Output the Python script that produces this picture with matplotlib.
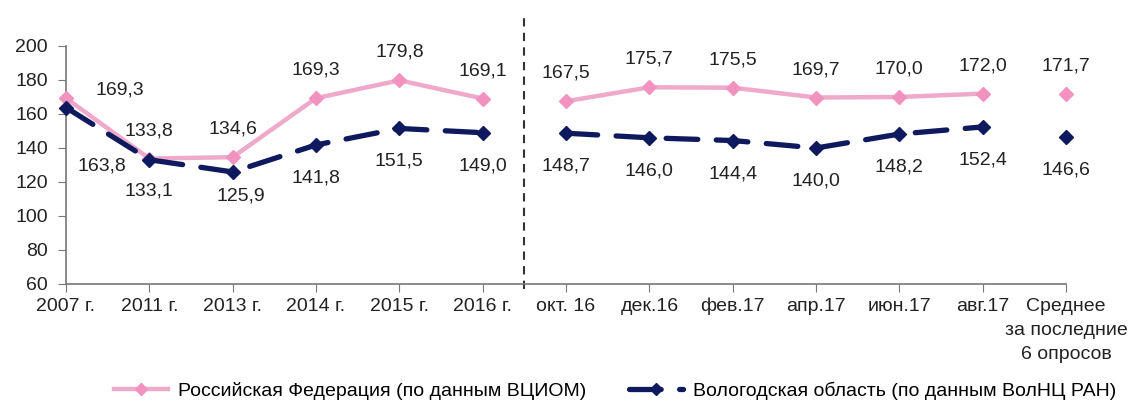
import matplotlib.pyplot as plt
import numpy as np

plt.rcParams['font.family'] = ['Liberation Sans', 'DejaVu Sans']

# подписи категорий
kategorii = ['2007 г.', '2011 г.', '2013 г.', '2014 г.', '2015 г.', '2016 г.',
             'окт. 16', 'дек.16', 'фев.17', 'апр.17', 'июн.17', 'авг.17',
             'Среднее\nза последние\n6 опросов']

# РФ (ВЦИОМ)
rf = [169.3, 133.8, 134.6, 169.3, 179.8, 169.1,
      167.5, 175.7, 175.5, 169.7, 170.0, 172.0, 171.7]
# Вологодская область (ВолНЦ РАН)
vo = [163.8, 133.1, 125.9, 141.8, 151.5, 149.0,
      148.7, 146.0, 144.4, 140.0, 148.2, 152.4, 146.6]

rosa_linea = '#efa9ca'
rosa_marca = '#f292bf'
azul = '#0f1a5e'

fig = plt.figure(figsize=(11.4, 4.03), dpi=100)
ax = fig.add_axes([66 / 1140, 119 / 403, 1000 / 1140, 238 / 403])

x = np.arange(len(kategorii))
tramos = [(0, 6), (6, 12), (12, 13)]

for i, (a, b) in enumerate(tramos):
    ax.plot(x[a:b], rf[a:b], color=rosa_linea, lw=3.2, marker='D', ms=7.5,
            mfc=rosa_marca, mec=rosa_marca, clip_on=False, zorder=3,
            label='Российская Федерация (по данным ВЦИОМ)' if i == 0 else None)
    ax.plot(x[a:b], vo[a:b], color=azul, lw=3.8, ls=(0, (6, 3.5)),
            dash_capstyle='round', marker='D', ms=7.5, mfc=azul, mec=azul,
            clip_on=False, zorder=3,
            label='Вологодская область (по данным ВолНЦ РАН)' if i == 0 else None)

# подписи значений (смещения в пикселях)
px = 0.72
for i in range(len(x)):
    dx_r, dy_r = 0, 28
    dx_v, dy_v = 0, -33
    if i == 0:
        dx_r, dy_r = 54, 8
        dx_v, dy_v = 36, -58
    if i == 1:
        dy_v = -31
    if i == 2:
        dx_v, dy_v = 8, -24
    ax.annotate(f'{rf[i]:.1f}'.replace('.', ','), (x[i], rf[i]),
                xytext=(dx_r * px, dy_r * px), textcoords='offset points',
                ha='center', va='center', fontsize=14, color='#222222')
    ax.annotate(f'{vo[i]:.1f}'.replace('.', ','), (x[i], vo[i]),
                xytext=(dx_v * px, dy_v * px), textcoords='offset points',
                ha='center', va='center', fontsize=14, color='#222222')

# разделитель
ax.axvline(5.5, ymin=-0.02, ymax=1.143, color='#333333', lw=1.5,
           ls=(0, (4, 3)), clip_on=False)

ax.set_xlim(0, 12)
ax.set_ylim(60, 200)
ax.set_yticks(range(60, 201, 20))
ax.set_xticks(x)
ax.set_xticklabels(kategorii, fontsize=14, color='#222222', linespacing=1.55)
ax.tick_params(axis='y', labelsize=14, labelcolor='#222222', direction='out',
               length=6, color='#777777', pad=7)
ax.tick_params(axis='x', direction='out', length=6, color='#777777', pad=4)
for s in ['top', 'right']:
    ax.spines[s].set_visible(False)
for s in ['left', 'bottom']:
    ax.spines[s].set_color('#777777')
    ax.spines[s].set_linewidth(1.2)

fig.legend(loc='center', bbox_to_anchor=(615 / 1140, 1 - 391 / 403), ncol=2,
           frameon=False, fontsize=14, handlelength=2.8, columnspacing=2.2,
           handletextpad=0.5, markerscale=0.85)

plt.savefig('out.png', dpi=100)
